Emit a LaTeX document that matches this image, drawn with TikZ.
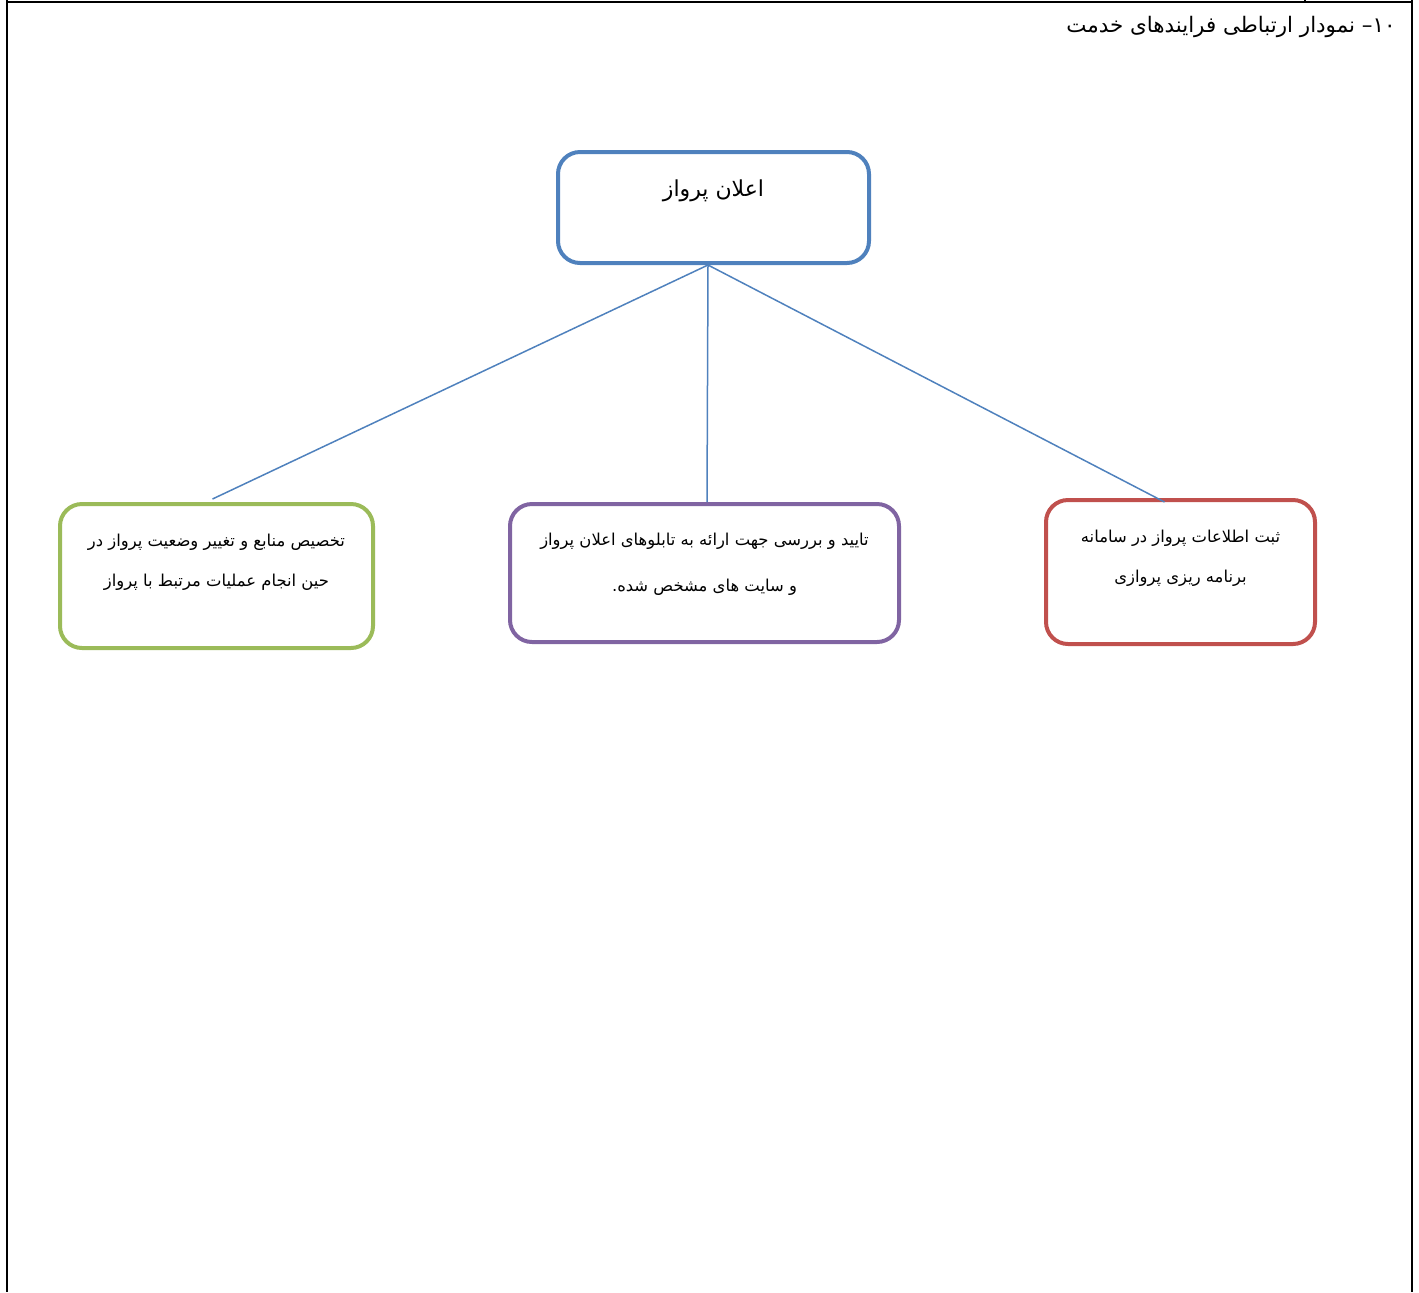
\documentclass[tikz,border=0pt]{standalone}
\usepackage{fontspec}
\usepackage{tikz}
\usetikzlibrary{positioning}
\newfontfamily\arabicfont[Script=Arabic]{DejaVu Sans}
\TeXXeTstate=1
\definecolor{topblue}{RGB}{79,129,189}
\definecolor{leafgreen}{RGB}{155,187,89}
\definecolor{leafpurple}{RGB}{128,100,162}
\definecolor{leafred}{RGB}{192,80,77}
\tikzset{
  procbox/.style={draw, line width=2pt, rounded corners=11pt},
  boxtext/.style={inner sep=0pt, align=center, font=\arabicfont\fontsize{8.2}{20}\selectfont},
  link/.style={topblue, line width=0.75pt}
}

\begin{document}
\begin{tikzpicture}[x=0.5pt, y=-0.5pt]
            \useasboundingbox (0,0) rectangle (1419,1292);
            \draw[line width=1.1pt] (7,0)--(7,1292);
            \draw[line width=1.1pt] (1412,0)--(1412,1292);
            \draw[line width=1.1pt] (7,2)--(1412,2);
            \draw[line width=0.6pt] (1305,0)--(1305,2);
            \node[anchor=east, inner sep=0pt, font=\arabicfont\fontsize{10.7}{13}\selectfont] (title) at (1396,27) {\beginR\beginL ۱۰\endL{}– نمودار ارتباطی فرایندهای خدمت\endR};
            \node[procbox, topblue, minimum width=155.5pt, minimum height=55.5pt] (announce) at (713.5,207.5) {};
            \node[procbox, leafgreen, minimum width=156.5pt, minimum height=72pt] (resources) at (216.5,576) {};
            \node[procbox, leafpurple, minimum width=194.5pt, minimum height=69pt] (boards) at (704.5,573) {};
            \node[procbox, leafred, minimum width=134.5pt, minimum height=72pt] (register) at (1180.5,572) {};
            \node[boxtext, font=\arabicfont\fontsize{11}{15}\selectfont, below=14.5pt of announce.north] (announcetext) {\beginR اعلان پرواز\endR};
            \node[boxtext, below=16pt of resources.north] (resourcestext) {\beginR تخصیص منابع و تغییر وضعیت پرواز در\endR\\\beginR حین انجام عملیات مرتبط با پرواز\endR};
            \node[boxtext, below=15.5pt of boards.north] (boardstext) {\beginR تایید و بررسی جهت ارائه به تابلوهای اعلان پرواز\endR\\[3pt]\beginR و سایت های مشخص شده.\endR};
            \node[boxtext, below=16pt of register.north] (registertext) {\beginR ثبت اطلاعات پرواز در سامانه\endR\\\beginR برنامه ریزی پروازی\endR};
            \coordinate (hub) at ([xshift=-2.75pt]announce.south);
            \draw[link] (hub)--([xshift=-2pt,yshift=1.5pt]resources.north);
            \draw[link] (hub)--([xshift=1.25pt]boards.north);
            \draw[link] (hub)--([xshift=-8pt,yshift=-2pt]register.north);
            \end{tikzpicture}
\end{document}
